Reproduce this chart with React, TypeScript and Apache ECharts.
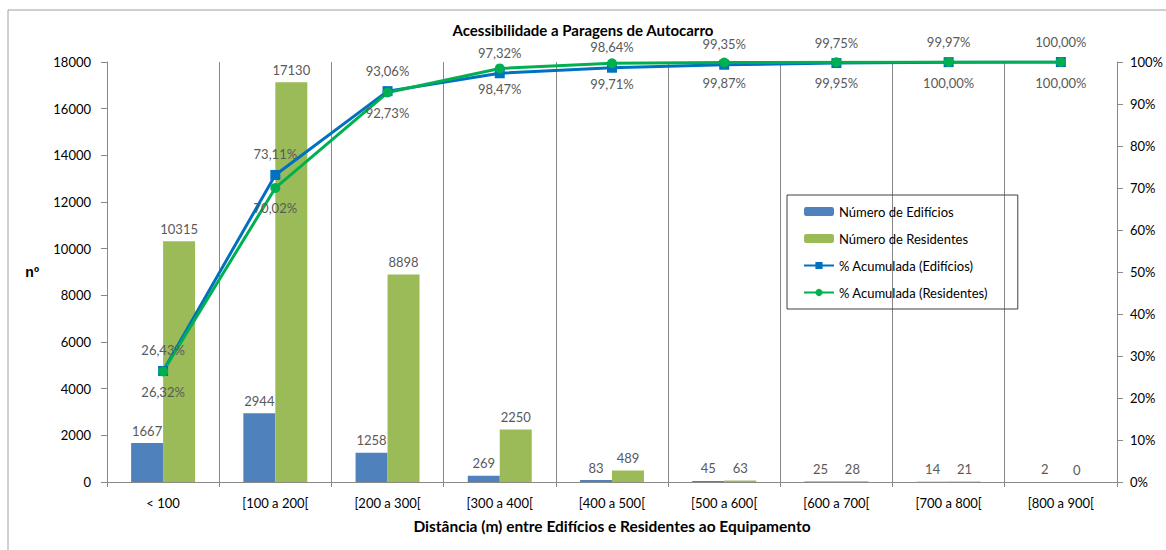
import React, { useEffect, useRef } from "react";
import * as echarts from "echarts";

const categories = ["< 100", "[100 a 200[", "[200 a 300[", "[300 a 400[", "[400 a 500[", "[500 a 600[", "[600 a 700[", "[700 a 800[", "[800 a 900["];
const edificios = [1667, 2944, 1258, 269, 83, 45, 25, 14, 2];
const residentes = [10315, 17130, 8898, 2250, 489, 63, 28, 21, 0];
const pctEdificios = [26.43, 73.11, 93.06, 97.32, 98.64, 99.35, 99.75, 99.97, 100.0];
const pctResidentes = [26.32, 70.02, 92.73, 98.47, 99.71, 99.87, 99.95, 100.0, 100.0];
const leftTicks = { min: 0, max: 18000, interval: 2000 };
const rightTicks = { min: 0, max: 100, interval: 10 };

const FONT = "Lato, 'Liberation Sans', sans-serif";
const fmtPct = (v: number) => v.toFixed(2).replace(".", ",") + "%";

export default function App() {
  const ref = useRef<HTMLDivElement>(null);
  useEffect(() => {
    if (!ref.current) return;
    const chart = echarts.init(ref.current, undefined, { renderer: "svg" });
    const labelStyle = { fontFamily: FONT, fontSize: 13, color: "#595959" };
    chart.setOption({
      animation: false,
      backgroundColor: "#fff",
      textStyle: { fontFamily: FONT },
      title: {
        text: "Acessibilidade a Paragens de Autocarro",
        left: "center",
        top: 17,
        textStyle: { fontFamily: FONT, fontSize: 15, fontWeight: "bold", color: "#000" },
      },
      graphic: [
        {
          type: "rect",
          shape: { x: 8, y: 10, width: 1300, height: 700 },
          style: { fill: "none", stroke: "#a0a0a0", lineWidth: 1 },
          silent: true,
          z: -1,
        },
      ],
      legend: {
        orient: "vertical",
        left: 787,
        top: 195,
        padding: [10, 30, 10, 16],
        itemGap: 14,
        itemWidth: 30,
        itemHeight: 9,
        borderColor: "#404040",
        borderWidth: 1,
        textStyle: { fontFamily: FONT, fontSize: 13, color: "#000" },
        data: ["Número de Edifícios", "Número de Residentes", "% Acumulada (Edifícios)", "% Acumulada (Residentes)"],
      },
      grid: { left: 107, right: 48, top: 62, bottom: 68 },
      xAxis: {
        type: "category",
        data: categories,
        name: "Distância (m) entre Edifícios e Residentes ao Equipamento",
        nameLocation: "middle",
        nameGap: 36,
        nameTextStyle: { fontFamily: FONT, fontSize: 15.5, fontWeight: "bold", color: "#000" },
        axisLine: { lineStyle: { color: "#888" } },
        axisTick: { show: true, length: 5, lineStyle: { color: "#888" } },
        axisLabel: { fontFamily: FONT, fontSize: 13, color: "#000", margin: 14 },
        splitLine: { show: true, lineStyle: { color: "#888" } },
      },
      yAxis: [
        {
          type: "value",
          ...leftTicks,
          name: "nº",
          nameLocation: "middle",
          nameRotate: 0,
          nameGap: 68,
          nameTextStyle: { fontFamily: "'Liberation Sans', sans-serif", fontSize: 14, fontWeight: "bold", color: "#000" },
          axisLine: { show: true, lineStyle: { color: "#888" } },
          axisTick: { show: true, length: 6, lineStyle: { color: "#888" } },
          axisLabel: { fontFamily: FONT, fontSize: 13, color: "#000", margin: 16, formatter: (v: number) => String(v) },
          splitLine: { show: false },
        },
        {
          type: "value",
          ...rightTicks,
          position: "right",
          axisLine: { show: true, lineStyle: { color: "#888" } },
          axisTick: { show: true, length: 6, lineStyle: { color: "#888" } },
          axisLabel: { fontFamily: FONT, fontSize: 13, color: "#000", margin: 13, formatter: "{value}%" },
          splitLine: { show: false },
        },
      ],
      series: [
        {
          name: "Número de Edifícios",
          type: "bar",
          data: edificios,
          barGap: "0%",
          barCategoryGap: "43%",
          itemStyle: { color: "#4F81BD" },
          label: { show: true, position: "top", distance: 6, ...labelStyle },
        },
        {
          name: "Número de Residentes",
          type: "bar",
          data: residentes,
          barGap: "0%",
          barCategoryGap: "43%",
          itemStyle: { color: "#9BBB59" },
          label: { show: true, position: "top", distance: 6, ...labelStyle },
        },
        {
          name: "% Acumulada (Edifícios)",
          type: "line",
          yAxisIndex: 1,
          data: pctEdificios,
          symbol: "rect",
          symbolSize: 10,
          lineStyle: { color: "#0070C0", width: 3 },
          itemStyle: { color: "#0070C0" },
          label: { show: true, position: "top", distance: 9, formatter: (p: any) => fmtPct(p.value), ...labelStyle },
        },
        {
          name: "% Acumulada (Residentes)",
          type: "line",
          yAxisIndex: 1,
          data: pctResidentes,
          symbol: "circle",
          symbolSize: 10,
          lineStyle: { color: "#00B050", width: 3 },
          itemStyle: { color: "#00B050" },
          label: { show: true, position: "bottom", distance: 9, formatter: (p: any) => fmtPct(p.value), ...labelStyle },
        },
      ],
    });
    return () => chart.dispose();
  }, []);
  return <div ref={ref} style={{ position: "fixed", left: 0, top: 0, width: 1166, height: 550 }} />;
}
